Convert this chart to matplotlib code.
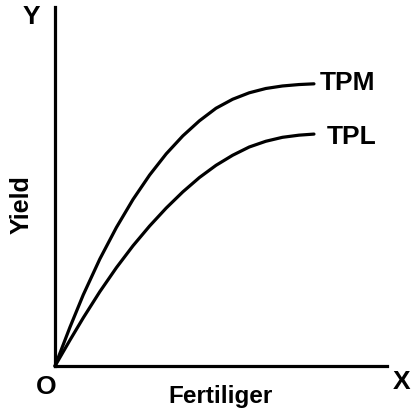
import matplotlib
matplotlib.use("Agg")
import matplotlib.pyplot as plt

plt.rcParams['font.family'] = ['Liberation Sans', 'DejaVu Sans']

# Fertiliser input (arbitrary units) and total product curves
fertiliser = [0, 4.5, 8.5, 13.5, 18.5, 23.5, 28.5, 33.5, 38.5, 43.5,
              48.5, 53.5, 58.5, 63.5, 68.5, 73.5, 78]
tpm_yield = [0, 10.8, 19.8, 29.8, 38.6, 46.4, 53.2, 59.1, 64.1, 68.3,
             71.8, 74.3, 76.1, 77.3, 78.0, 78.4, 78.6]
tpl_yield = [0, 7.2, 13.4, 20.7, 27.4, 33.5, 39.0, 44.0, 48.5, 52.5,
             55.9, 58.7, 61.0, 62.6, 63.7, 64.3, 64.6]
curve_labels = ["TPM", "TPL"]

W, H = 412, 417
fig = plt.figure(figsize=(W / 100, H / 100), dpi=100)

# axes frame: origin near the lower left, only the two axis lines shown
ax = fig.add_axes([55 / W, (H - 366) / H, 332 / W, 359 / H])
ax.set_xlim(0, 100)
ax.set_ylim(0, 100)
for side in ("top", "right"):
    ax.spines[side].set_visible(False)
for side in ("left", "bottom"):
    ax.spines[side].set_linewidth(2.3)
    ax.spines[side].set_color("black")
ax.set_xticks([])
ax.set_yticks([])

lw = 2.3
for yields in (tpm_yield, tpl_yield):
    ax.plot(fertiliser, yields, color="black", lw=lw,
            solid_capstyle="round", solid_joinstyle="round", clip_on=False)

def px(x, y):
    return x / W, 1 - y / H

fs = 19
bold = dict(fontweight="bold", ha="center", va="center")
fig.text(*px(347, 83), curve_labels[0], fontsize=fs, **bold)
fig.text(*px(352, 137), curve_labels[1], fontsize=fs, **bold)
fig.text(*px(31, 17), "Y", fontsize=fs, **bold)
fig.text(*px(402, 382), "X", fontsize=fs, **bold)
fig.text(*px(46, 387), "O", fontsize=fs, **bold)
fig.text(*px(221, 396), "Fertiliger", fontsize=17.5, **bold)
fig.text(*px(22, 205), "Yield", fontsize=18, rotation=90, **bold)

fig.savefig("out.png", dpi=100, facecolor="white")
